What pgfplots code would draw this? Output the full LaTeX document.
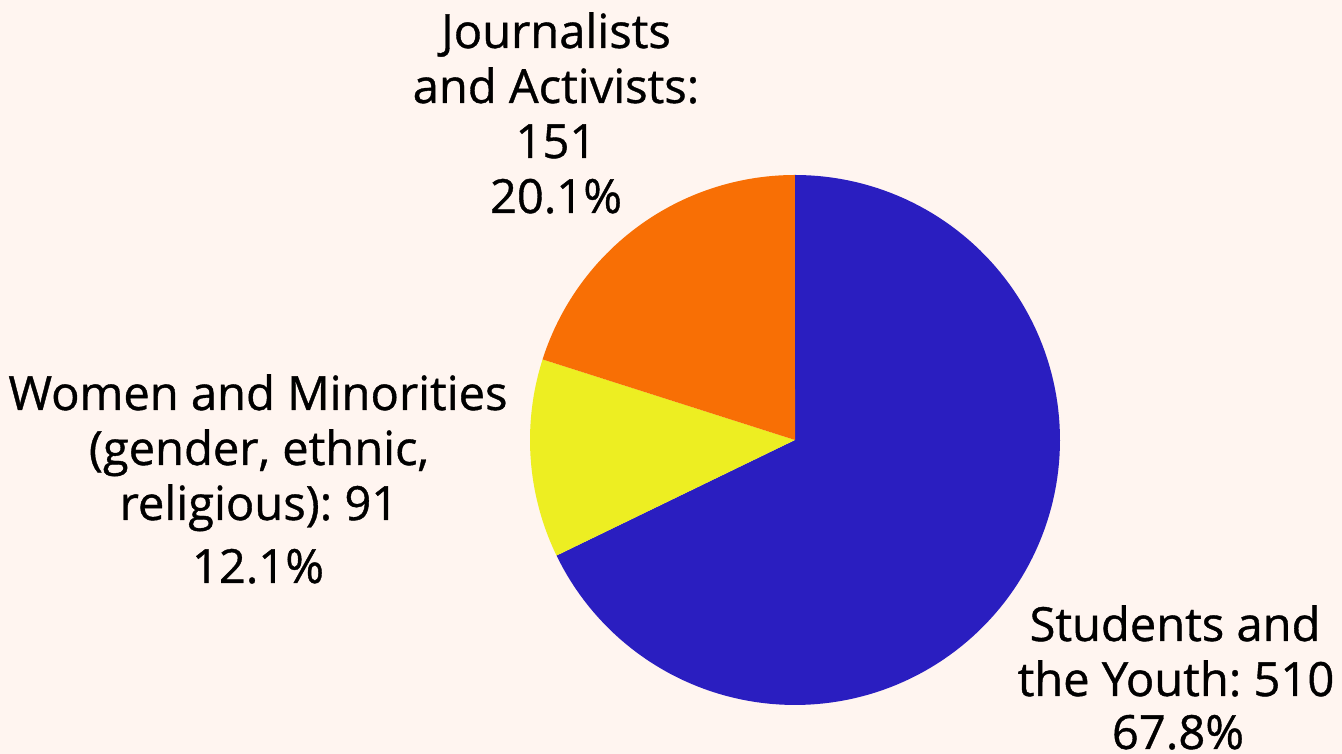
\documentclass[border=0pt]{standalone}
\usepackage{pgfplots}
\pgfplotsset{compat=1.18}
\usepackage{fontspec}
\setmainfont{Open Sans}
\newfontfamily\lblfont{Open Sans}[FakeBold=0.8]
\frenchspacing
\definecolor{bgc}{HTML}{FFF5F0}
\definecolor{cblue}{HTML}{2A1EC0}
\definecolor{cyellow}{HTML}{EDEE22}
\definecolor{corange}{HTML}{F86F05}
\tikzset{lbl/.style={font=\lblfont\fontsize{13.4pt}{15.6pt}\selectfont, anchor=base, inner sep=0pt, text=black}}
% values
\def\vStudents{510}
\def\vWomen{91}
\def\vJournal{151}
\pgfmathsetmacro\total{\vStudents+\vWomen+\vJournal}
\pgfmathsetmacro\aA{90-360*(\vStudents/\total)}
\pgfmathsetmacro\aB{\aA-360*(\vWomen/\total)}
\pgfmathsetmacro\aC{\aB-360*(\vJournal/\total)}
\begin{document}
\begin{tikzpicture}
\useasboundingbox (0,0) rectangle (13.42cm,7.54cm);
\clip (0,0) rectangle (13.42cm,7.54cm);
\fill[bgc] (0,0) rectangle (13.42cm,7.54cm);
\begin{axis}[at={(0,0)}, anchor=south west, scale only axis,
  width=13.42cm, height=7.54cm, xmin=0, xmax=1342, ymin=0, ymax=754,
  hide axis, clip=false]
\addplot[fill=cblue, draw=none, domain=\aA:90, samples=150, variable=\t]
  ({795+265*cos(\t)}, {314+265*sin(\t)}) -- (axis cs:795,314) -- cycle;
\addplot[fill=cyellow, draw=none, domain=\aB:\aA, samples=40, variable=\t]
  ({795+265*cos(\t)}, {314+265*sin(\t)}) -- (axis cs:795,314) -- cycle;
\addplot[fill=corange, draw=none, domain=\aC:\aB, samples=60, variable=\t]
  ({795+265*cos(\t)}, {314+265*sin(\t)}) -- (axis cs:795,314) -- cycle;
% Journalists
\node[lbl] at (axis cs:556,706) {Journalists};
\node[lbl] at (axis cs:556,651) {and Activists:};
\node[lbl] at (axis cs:556,596) {151};
\node[lbl] at (axis cs:556,541) {20.1\%};
% Women
\node[lbl] at (axis cs:258,344) {Women and Minorities};
\node[lbl] at (axis cs:259,289) {(gender, ethnic,};
\node[lbl] at (axis cs:259,234) {religious): 91};
\node[lbl] at (axis cs:258,171) {12.1\%};
% Students
\node[lbl] at (axis cs:1175,113) {Students and};
\node[lbl] at (axis cs:1176,58) {the Youth: 510};
\node[lbl] at (axis cs:1178,5) {67.8\%};
\end{axis}
\end{tikzpicture}
\end{document}
